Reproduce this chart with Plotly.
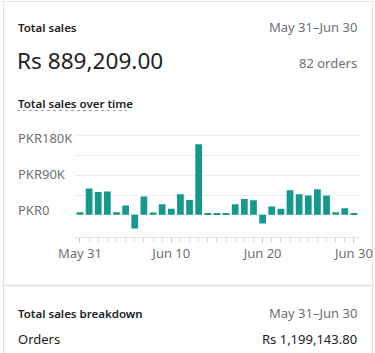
import plotly.graph_objects as go

# ---- data ----
dates = ["2023-05-31", "2023-06-01", "2023-06-02", "2023-06-03", "2023-06-04", "2023-06-05",
         "2023-06-06", "2023-06-07", "2023-06-08", "2023-06-09", "2023-06-10", "2023-06-11",
         "2023-06-12", "2023-06-13", "2023-06-14", "2023-06-15", "2023-06-16", "2023-06-17",
         "2023-06-18", "2023-06-19", "2023-06-20", "2023-06-21", "2023-06-22", "2023-06-23",
         "2023-06-24", "2023-06-25", "2023-06-26", "2023-06-27", "2023-06-28", "2023-06-29",
         "2023-06-30"]
sales = [6000, 60000, 52000, 53000, 6000, 21000, -31000, 42000, 5000, 24000, 14000, 47000,
         34000, 161000, 3000, 3000, 3000, 24000, 36000, 33000, -20000, 19000, 14000, 56000,
         47000, 44000, 58000, 44000, 6000, 15000, 3000]
y_tick_vals = [0, 45000, 90000, 135000, 180000]
y_label_vals = [0, 90000, 180000]
y_label_text = ["PKR0", "PKR90K", "PKR180K"]
y_label_shift = [5, 1, -2]

W, H = 375, 353
FONT = "Noto Sans"
DARK = "#202223"
GRAY = "#6d7175"
BAR = "#15998f"


def px(x):
    return x / W


def py(y):
    return 1 - y / H


fig = go.Figure()
fig.add_trace(go.Bar(x=dates, y=sales, marker_color=BAR, marker_line_width=0))

annotations = []


def txt(text, x, y, size, color, anchor="left", weight=None):
    f = dict(family=FONT, size=size, color=color)
    if weight:
        f["weight"] = weight
    annotations.append(dict(text=text, x=px(x), y=py(y), xref="paper", yref="paper",
                            xanchor=anchor, yanchor="middle", showarrow=False, font=f))


txt("Total sales", 16, 27.5, 11.5, DARK, weight=600)
txt("May 31–Jun 30", 359, 27.5, 13, GRAY, anchor="right")
txt("Rs 889,209.00", 15, 60, 22.6, DARK)
txt("82 orders", 359, 63, 13, GRAY, anchor="right")
txt("Total sales over time", 16, 103.5, 11.5, DARK, weight=600)
txt("Total sales breakdown", 16, 313, 11.5, DARK, weight=600)
txt("May 31–Jun 30", 359, 313, 13, GRAY, anchor="right")
txt("Orders", 16, 339, 13, DARK)
txt("Rs 1,199,143.80", 359, 339, 13, DARK, anchor="right")

for v, t, s in zip(y_label_vals, y_label_text, y_label_shift):
    annotations.append(dict(text=t, x=px(16), y=v, xref="paper", yref="y", xanchor="left",
                            yanchor="middle", yshift=s, showarrow=False,
                            font=dict(family=FONT, size=13, color=GRAY)))

shapes = [
    # card border
    dict(type="rect", xref="paper", yref="paper", x0=px(3.5), x1=px(372.5), y0=py(360), y1=py(1.5),
         line=dict(color="#e1e3e5", width=1), layer="below"),
    # separator between cards
    dict(type="line", xref="paper", yref="paper", x0=px(3.5), x1=px(372.5), y0=py(285.5), y1=py(285.5),
         line=dict(color="#e3e4e6", width=2)),
    # dotted underline of chart title
    dict(type="line", xref="paper", yref="paper", x0=px(17), x1=px(127), y0=py(110.5), y1=py(110.5),
         line=dict(color="#9ea3a8", width=1, dash="dot")),
]

fig.update_layout(
    width=W, height=H,
    margin=dict(l=0, r=0, t=0, b=0, pad=0, autoexpand=False),
    paper_bgcolor="white", plot_bgcolor="white",
    showlegend=False,
    bargap=0.26,
    annotations=annotations,
    shapes=shapes,
    xaxis=dict(
        domain=[px(75.4), px(358.5)],
        type="date",
        range=["2023-05-30 12:00", "2023-06-30 12:00"],
        tick0="2023-05-31", dtick=10 * 86400000,
        tickformat="%b %d",
        ticks="outside", ticklen=5, tickcolor="#c9cccf", tickwidth=1,
        minor=dict(dtick=86400000, tick0="2023-05-31", ticks="outside", ticklen=4,
                   tickcolor="#d6d8da", showgrid=False),
        showline=True, linecolor="#e1e3e5", linewidth=1,
        showgrid=False, zeroline=False, automargin=False,
        tickfont=dict(family=FONT, size=13, color=GRAY),
        fixedrange=True,
    ),
    yaxis=dict(
        domain=[py(236.5), py(128)],
        range=[-49500, 198000],
        tickvals=y_tick_vals,
        showticklabels=False, automargin=False,
        showgrid=True, gridcolor="#ececec", gridwidth=1,
        zeroline=False, showline=False, ticks="",
        fixedrange=True,
    ),
)

fig.write_html("out.html")
